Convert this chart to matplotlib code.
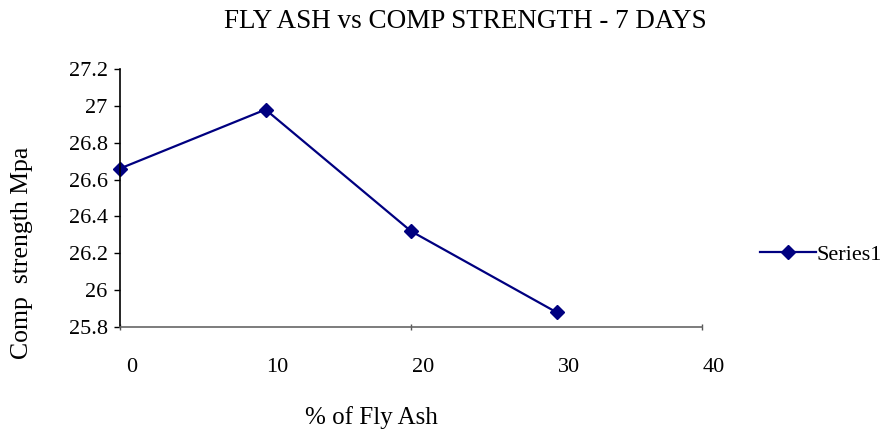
import matplotlib
matplotlib.use('Agg')
import matplotlib.pyplot as plt
import matplotlib.transforms as mtransforms

# data
fly_ash = [0, 10, 20, 30]
strength = [26.66, 26.98, 26.32, 25.88]
y_ticks = [25.8, 26, 26.2, 26.4, 26.6, 26.8, 27, 27.2]
y_tick_labels = ['25.8', '26', '26.2', '26.4', '26.6', '26.8', '27', '27.2']

plt.rcParams['font.family'] = ['Liberation Serif', 'DejaVu Serif']

fig = plt.figure(figsize=(8.89, 4.3), dpi=100)
ax = fig.add_axes([0.135, 0.2395, 0.6547, 0.6])

line, = ax.plot(fly_ash, strength, color='#000080', lw=1.6,
                marker='D', markersize=7, label='Series1', clip_on=False)

ax.set_xlim(0, 40)
ax.set_ylim(25.8, 27.2)

# tick marks only at 0/20/40, labels at every 10
ax.set_xticks([0, 20, 40])
ax.set_xticks([10, 30], minor=True)
ax.set_xticklabels(['0', '20', '40'])
ax.set_xticklabels(['10', '30'], minor=True)
ax.tick_params(axis='x', which='major', length=5, width=1, color='#555555',
               direction='inout', labelsize=16, pad=20)
ax.tick_params(axis='x', which='minor', length=0, labelsize=16, pad=22.5)
offset = mtransforms.ScaledTranslation(12 / 100, 0, fig.dpi_scale_trans)
for lbl in ax.get_xticklabels() + ax.get_xticklabels(minor=True):
    lbl.set_transform(lbl.get_transform() + offset)

ax.set_yticks(y_ticks)
ax.set_yticklabels(y_tick_labels)
ax.tick_params(axis='y', length=4, width=1, direction='out', labelsize=16, pad=5)

for s in ['top', 'right']:
    ax.spines[s].set_visible(False)
ax.spines['left'].set_color('black')
ax.spines['left'].set_linewidth(1.2)
ax.spines['bottom'].set_color('#666666')
ax.spines['bottom'].set_linewidth(1.2)

fig.text(0.523, 0.949, 'FLY ASH vs COMP STRENGTH - 7 DAYS', ha='center', va='center',
         fontsize=19.5)
fig.text(0.025, 0.412, 'Comp  strength Mpa', rotation=90, ha='center', va='center',
         fontsize=18.5)
fig.text(0.418, 0.03, '% of Fly Ash', ha='center', va='center', fontsize=18)

fig.legend(handles=[line], loc='center left', bbox_to_anchor=(0.845, 0.407),
           frameon=False, fontsize=16, handlelength=2.5, handletextpad=0.05,
           borderaxespad=0)

fig.savefig('out.png', dpi=100)
